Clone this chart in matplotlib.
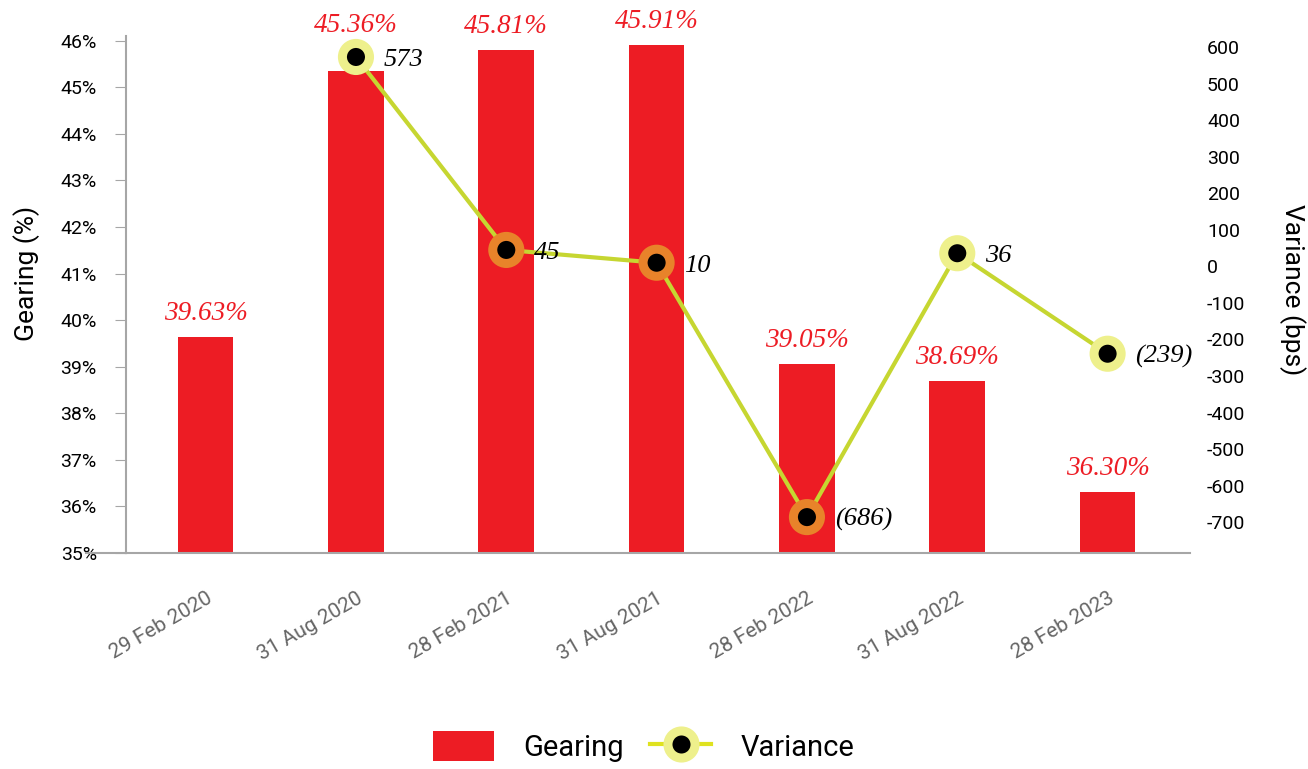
import numpy as np
import matplotlib.pyplot as plt
from matplotlib.patches import Patch
from matplotlib.lines import Line2D

# gearing per reporting date, and half-year variance in bps
dates = ['29 Feb 2020', '31 Aug 2020', '28 Feb 2021', '31 Aug 2021',
         '28 Feb 2022', '31 Aug 2022', '28 Feb 2023']
gearing = [39.63, 45.36, 45.81, 45.91, 39.05, 38.69, 36.30]
variance = [np.nan, 573, 45, 10, -686, 36, -239]
variance_labels = ['', '573', '45', '10', '(686)', '36', '(239)']
halo_colors = ['none', '#eef08c', '#e8832a', '#e8832a', '#e8832a', '#eef08c', '#eef08c']

RED = '#ed1c24'
LIME = '#c6d631'
GREY = '#a6a6a6'

plt.rcParams['font.family'] = ['Roboto', 'DejaVu Sans']
plt.rcParams['axes.unicode_minus'] = False
serif_it = dict(family=['Liberation Serif', 'DejaVu Serif'], style='italic')

fig = plt.figure(figsize=(13.08, 7.69), dpi=100)
ax = fig.add_axes([0.0963, 0.281, 0.8137, 0.672])
x = np.arange(len(dates))

ax.bar(x, gearing, width=0.37, color=RED, zorder=2)

ax.set_xlim(-0.53, 6.55)
ax.set_ylim(35, 46.1)
ax.set_yticks(range(35, 47))
ax.set_yticklabels([f'{v}%' for v in range(35, 47)])
ax.set_ylabel('Gearing (%)', fontsize=19)
ax.yaxis.set_label_coords(-0.081, 0.54)
ax.tick_params(axis='y', colors=GREY, labelcolor='black', labelsize=14,
               length=8, pad=13)
ax.set_xticks(x)
ax.set_xticklabels(dates, rotation=30, ha='right', rotation_mode='anchor',
                   color='#666666', fontsize=15)
ax.tick_params(axis='x', length=0, pad=26)
for side in ['top', 'right']:
    ax.spines[side].set_visible(False)
ax.spines['left'].set_color(GREY)
ax.spines['bottom'].set_color(GREY)
ax.spines['left'].set_linewidth(1.5)
ax.spines['bottom'].set_linewidth(1.5)
# baseline runs a little past the left spine
ax.plot([-0.038, 0], [0, 0], transform=ax.transAxes, color=GREY, lw=1.5,
        clip_on=False)

ax2 = ax.twinx()
ax2.set_ylim(-784, 630)
ax2.set_yticks(range(-700, 700, 100))
ax2.tick_params(axis='y', length=0, labelsize=14, pad=12)
for side in ['top', 'right', 'left', 'bottom']:
    ax2.spines[side].set_visible(False)
ax2.set_ylabel('Variance (bps)', fontsize=19, rotation=270, va='bottom')
ax2.yaxis.set_label_coords(1.083, 0.51)

ax2.plot(x, variance, color=LIME, lw=3, zorder=3)
ax2.scatter(x, variance, s=19.5 ** 2, c='black', edgecolors=halo_colors,
            linewidths=6.5, zorder=4)
for xi, v, lab in zip(x, variance, variance_labels):
    if lab:
        ax2.annotate(lab, (xi, v), xytext=(20, -2), textcoords='offset points',
                     ha='left', va='center', color='black', fontsize=19, **serif_it)

# bar labels, lifted clear of a variance marker sitting on the bar top
for xi, g, v in zip(x, gearing, variance):
    bar_top = ax.transData.transform((xi, g))[1]
    lift = 8
    if not np.isnan(v):
        mark = ax2.transData.transform((xi, v))[1]
        if 0 < mark - bar_top < 40 or abs(mark - bar_top) < 20:
            lift = (mark - bar_top) * 72 / fig.dpi + 14
    ax.annotate(f'{g:.2f}%', (xi, g), xytext=(0, lift), textcoords='offset points',
                ha='center', va='bottom', color=RED, fontsize=19.5, **serif_it)

# legend along the bottom
gear_handle = Patch(facecolor=RED)
var_handle = (Line2D([], [], color='#dfe21f', lw=3),
              Line2D([], [], ls='none', marker='o', ms=19.5, mfc='black',
                     mec='#eef08c', mew=6.5))
fig.legend([gear_handle, var_handle], ['Gearing', 'Variance'],
           loc='lower center', bbox_to_anchor=(0.492, -0.025), ncol=2,
           frameon=False, fontsize=21, handlelength=2.1, handleheight=1.2,
           handletextpad=1.0, columnspacing=0.9)

fig.savefig('out.png', dpi=100)
